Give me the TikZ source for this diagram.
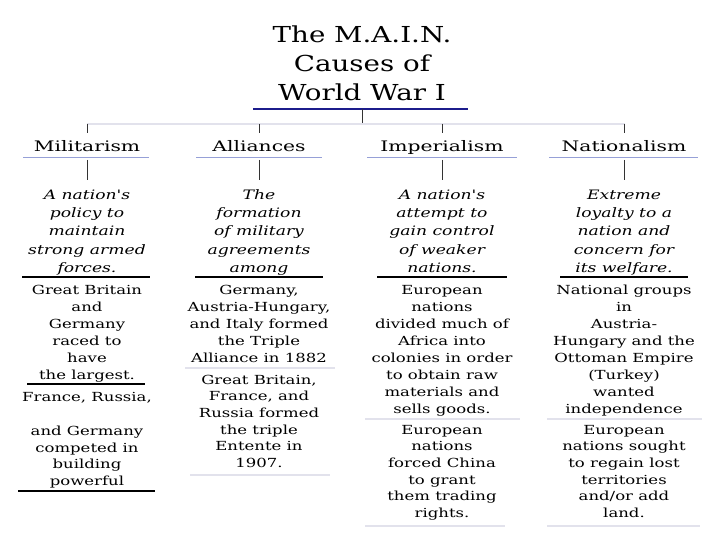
\documentclass[tikz,border=0pt]{standalone}
\usepackage{fontspec}
\setmainfont{DejaVu Serif}
\newfontfamily\titlefont{DejaVu Serif}[FakeStretch=1.26]
\newfontfamily\headfont{DejaVu Serif}[FakeStretch=1.4]
\newfontfamily\causefont{DejaVu Serif}[FakeStretch=1.32]
\usetikzlibrary{calc}

\definecolor{navy}{RGB}{28,28,140}
\definecolor{headrule}{RGB}{150,160,215}
\definecolor{faint}{RGB}{226,226,236}

\begin{document}
\begin{tikzpicture}[
  x=1pt, y=-1pt,
  maintitle/.style={align=center, inner sep=0pt, anchor=north, font=\titlefont\fontsize{22}{29}\selectfont},
  head/.style={inner sep=0pt, anchor=base, font=\headfont\fontsize{14.5}{17}\selectfont},
  defn/.style={align=center, inner sep=0pt, anchor=north, font=\causefont\itshape\fontsize{13}{18.3}\selectfont},
  fact/.style={align=center, inner sep=0pt, anchor=north, font=\causefont\fontsize{12.5}{17.1}\selectfont},
  factb/.style={fact, font=\causefont\fontsize{12.5}{16.6}\selectfont},
  bar/.style={draw=navy, line width=2.5pt},
  link/.style={draw=black!80, line width=0.8pt},
  spread/.style={draw=faint, line width=1.5pt},
  headline/.style={draw=headrule, line width=1pt},
  rule/.style={draw=black, line width=1.1pt},
  softrule/.style={draw=faint, line width=1.4pt}
]
\fill[white] (0,0) rectangle (720,540);
\useasboundingbox (0,0) rectangle (720,540);

% title and top bar
\node[maintitle] (title) at (362,21.7) {\strut The M.A.I.N.\\Causes of\\World War I};
\coordinate (bar) at (362,109);
\coordinate (spine) at (362,124);
\draw[bar] ($(bar)+(-109,0)$) -- ($(bar)+(106,0)$);
\draw[link] (bar) -- (spine);
\draw[spread] (87,124) -- (625,124);

% headings
\node[head] (hmil) at (87,152) {Militarism};
\node[head] (hall) at (259,152) {Alliances};
\node[head] (himp) at (442,152) {Imperialism};
\node[head] (hnat) at (624,152) {Nationalism};
\foreach \h in {hmil,hall,himp,hnat}
  \draw[link] (\h.base |- spine) -- ++(0,9);
\draw[headline] (23,158) -- (149,158);
\draw[headline] (196,158) -- (322,158);
\draw[headline] (367,158) -- (517,158);
\draw[headline] (549,158) -- (698,158);

% definitions
\node[defn] (dmil) at (87,186.2) {\strut A nation's\\policy to\\maintain\\strong armed\\forces.};
\node[defn] (dall) at (259,186.2) {\strut The\\formation\\of military\\agreements\\among};
\node[defn] (dimp) at (442,186.2) {\strut A nation's\\attempt to\\gain control\\of weaker\\nations.};
\node[defn] (dnat) at (624,186.2) {\strut Extreme\\loyalty to a\\nation and\\concern for\\its welfare.};
\foreach \h/\d in {hmil/dmil,hall/dall,himp/dimp,hnat/dnat}
  \draw[link] ([yshift=-8pt]\h.base) -- ([yshift=6pt]\d.north);
\draw[rule] (22,277) -- (150,277);
\draw[rule] (195,277) -- (323,277);
\draw[rule] (377,277) -- (507,277);
\draw[rule] (560,277) -- (688,277);

% examples
\node[fact] (fmil) at (87,282) {\strut Great Britain\\and\\Germany\\raced to\\have\\the largest.};
\draw[rule] (27,384) -- (145,384);
\node[fact, font=\causefont\fontsize{12.5}{16.5}\selectfont] (fmil2) at (87,389.5)
  {\strut France, Russia,\\[18pt]and Germany\\competed in\\building\\powerful};
\draw[rule] (18,491) -- (155,491);

\node[fact] (fall) at (259,282) {\strut Germany,\\Austria-Hungary,\\and Italy formed\\the Triple\\Alliance in 1882};
\draw[softrule] (185,368) -- (335,368);
\node[factb] (fall2) at (259,372.4) {\strut Great Britain,\\France, and\\Russia formed\\the triple\\Entente in\\1907.};
\draw[softrule] (190,475) -- (330,475);

\node[fact] (fimp) at (442,282) {\strut European\\nations\\divided much of\\Africa into\\colonies in order\\to obtain raw\\materials and\\sells goods.};
\draw[softrule] (365,419) -- (520,419);
\node[factb] (fimp2) at (442,422.4) {\strut European\\nations\\forced China\\to grant\\them trading\\rights.};
\draw[softrule] (365,526) -- (505,526);

\node[fact] (fnat) at (624,282) {\strut National groups\\in\\Austria-\\Hungary and the\\Ottoman Empire\\(Turkey)\\wanted\\independence};
\draw[softrule] (547,419) -- (702,419);
\node[factb] (fnat2) at (624,422.4) {\strut European\\nations sought\\to regain lost\\territories\\and/or add\\land.};
\draw[softrule] (547,526) -- (700,526);
\end{tikzpicture}
\end{document}
